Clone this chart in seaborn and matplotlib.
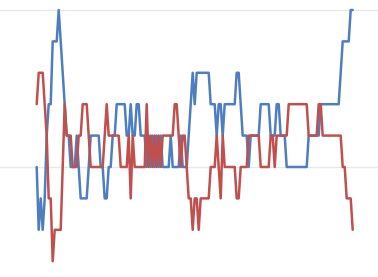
import numpy as np
import pandas as pd
import matplotlib
matplotlib.use("Agg")
import matplotlib.pyplot as plt
import seaborn as sns

blue_values = [
    0, -2, -1, -2, -1, 1, 2, 2, 4, 4,
    4, 5, 4, 3, 2, 1, 1, 0, 0, 0,
    1, 0, -1, -1, -1, -1, 0, 1, 1, 1,
    1, 1, 0, 0, -1, -1, 0, 0, 1, 1,
    2, 2, 2, 2, 2, 1, 1, 2, 1, 1,
    2, 2, 1, 1, 1, 0, 1, 0, 1, 0,
    1, 0, 1, 0, 0, 0, 0, 1, 0, 0,
    0, 0, 1, 0, 0, 0, 1, 2, 3, 2,
    3, 3, 3, 3, 3, 3, 3, 2, 2, 2,
    1, 2, 2, 1, 2, 2, 2, 2, 2, 2,
    3, 3, 2, 1, 1, 1, 0, 1, 1, 1,
    1, 1, 2, 2, 2, 2, 2, 1, 1, 1,
    2, 2, 1, 1, 1, 0, 0, 0, 0, 0,
    0, 0, 0, 0, 0, 0, 1, 1, 1, 1,
    1, 1, 2, 2, 2, 2, 2, 2, 2, 2,
    2, 2, 3, 4, 4, 4, 4, 5, 5,
]

red_values = [
    2, 3, 3, 3, 2, 1, -1, -1, -3, -2,
    -2, -2, -2, 0, 2, 1, 1, 1, 0, 0,
    0, 1, 1, 2, 2, 2, 1, 0, 0, 0,
    0, 0, 0, 0, 1, 2, 1, 1, 1, 1,
    1, 1, 0, 0, 0, 0, 1, -1, 1, 0,
    0, 0, 0, 0, 0, 2, 0, 1, 0, 1,
    0, 1, 0, 1, 1, 1, 1, 1, 1, 2,
    2, 1, 0, 1, 1, 0, -1, -1, -2, -1,
    -1, -2, -1, -1, -1, -1, -1, 0, 0, 0,
    1, 0, -1, 1, 0, 0, 0, 0, 0, 0,
    -1, -1, 0, 0, 0, 0, 1, 1, 1, 1,
    1, 1, 0, 0, 0, 0, 0, 1, 1, 0,
    1, 1, 1, 1, 1, 1, 2, 2, 2, 2,
    2, 2, 2, 2, 2, 2, 1, 1, 1, 1,
    1, 2, 2, 1, 1, 1, 1, 1, 1, 1,
    1, 1, 1, 0, 0, -1, -1, -1, -2,
]

steps = list(range(len(blue_values)))
y_ticks = [0, 5]

df = pd.DataFrame({
    "step": steps * 2,
    "value": blue_values + red_values,
    "series": ["A"] * len(blue_values) + ["B"] * len(red_values),
})

sns.set_style("white")
fig = plt.figure(figsize=(3.78, 2.77), dpi=100)
ax = fig.add_axes([0, 0, 1, 1])

sns.lineplot(data=df, x="step", y="value", hue="series",
             palette={"A": "#4f7ec0", "B": "#c0504d"},
             linewidth=1.8, legend=False, ax=ax, estimator=None)

ax.set_xlim(-18.35, 170.65)
ax.set_ylim(-3.503, 5.318)
ax.set_yticks(y_ticks)
ax.yaxis.grid(True, color="#e8e8e8", linewidth=1.0)
ax.xaxis.grid(False)
ax.set_axisbelow(True)
ax.tick_params(left=False, bottom=False, labelleft=False, labelbottom=False)
ax.set_xlabel("")
ax.set_ylabel("")
for s in ax.spines.values():
    s.set_visible(False)

fig.savefig("out.png", dpi=100)
